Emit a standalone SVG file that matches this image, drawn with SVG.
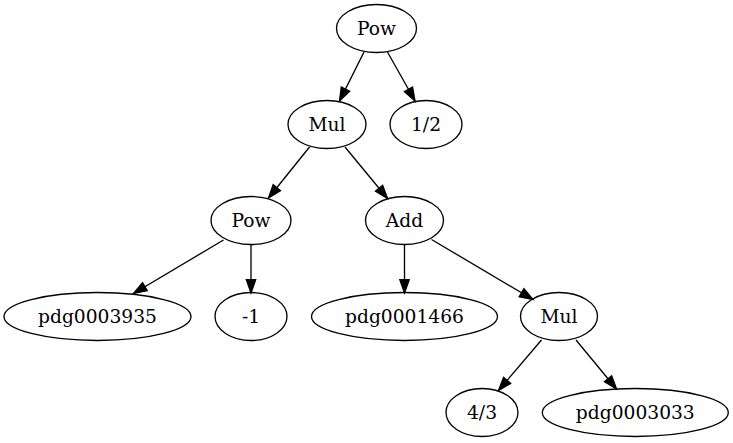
<svg xmlns="http://www.w3.org/2000/svg" width="733" height="443" viewBox="0 0 733 443">
<style>
.n ellipse{fill:none;stroke:#000;stroke-width:1.33}
.n text{font-family:"DejaVu Serif",serif;font-size:18.67px;text-anchor:middle;fill:#000}
#edges path{fill:none;stroke:#000;stroke-width:1.33;marker-end:url(#ah)}
</style>
<defs>
<marker id="ah" markerUnits="userSpaceOnUse" markerWidth="15" markerHeight="11" refX="13.3" refY="4.67" orient="auto" overflow="visible">
<path d="M0,0 L13.3,4.67 L0,9.33 z" fill="#000" stroke="#000" stroke-width="1.33"/>
</marker>
</defs>
<rect width="733" height="443" fill="#fff"/>
<g id="edges">
<path d="M364,52 L339.5,101"/>
<path d="M387.5,52 L415,101"/>
<path d="M309.5,147 L268.5,198"/>
<path d="M345,147 L387.5,198.5"/>
<path d="M223.5,240 L133.5,293.5"/>
<path d="M251,244.5 L251,293"/>
<path d="M404.5,244.5 L404.5,293"/>
<path d="M431.5,239.5 L533,299.5"/>
<path d="M541.5,340 L498.5,390.5"/>
<path d="M576,340 L616.5,389"/>
</g>
<g id="n1" class="n"><ellipse cx="376.5" cy="28.5" rx="40" ry="24"/><text x="376.5" y="35">Pow</text></g>
<g id="n2" class="n"><ellipse cx="327" cy="124.5" rx="39" ry="24"/><text x="327" y="131">Mul</text></g>
<g id="n3" class="n"><ellipse cx="426" cy="124.5" rx="36" ry="24"/><text x="426" y="131">1/2</text></g>
<g id="n4" class="n"><ellipse cx="251" cy="220.5" rx="40" ry="24"/><text x="251" y="227">Pow</text></g>
<g id="n5" class="n"><ellipse cx="404.5" cy="220.5" rx="39" ry="24"/><text x="404.5" y="227">Add</text></g>
<g id="n6" class="n"><ellipse cx="97.5" cy="316.5" rx="93.5" ry="24"/><text x="97.5" y="323">pdg0003935</text></g>
<g id="n7" class="n"><ellipse cx="251" cy="316.5" rx="36" ry="24"/><text x="251" y="323">-1</text></g>
<g id="n8" class="n"><ellipse cx="404.5" cy="316.5" rx="93" ry="24"/><text x="404.5" y="323">pdg0001466</text></g>
<g id="n9" class="n"><ellipse cx="559" cy="316.5" rx="38.5" ry="24"/><text x="559" y="323">Mul</text></g>
<g id="n10" class="n"><ellipse cx="482" cy="412.5" rx="36" ry="24"/><text x="482" y="419">4/3</text></g>
<g id="n11" class="n"><ellipse cx="635.3" cy="412.5" rx="93" ry="24"/><text x="635.3" y="419">pdg0003033</text></g>
</svg>
